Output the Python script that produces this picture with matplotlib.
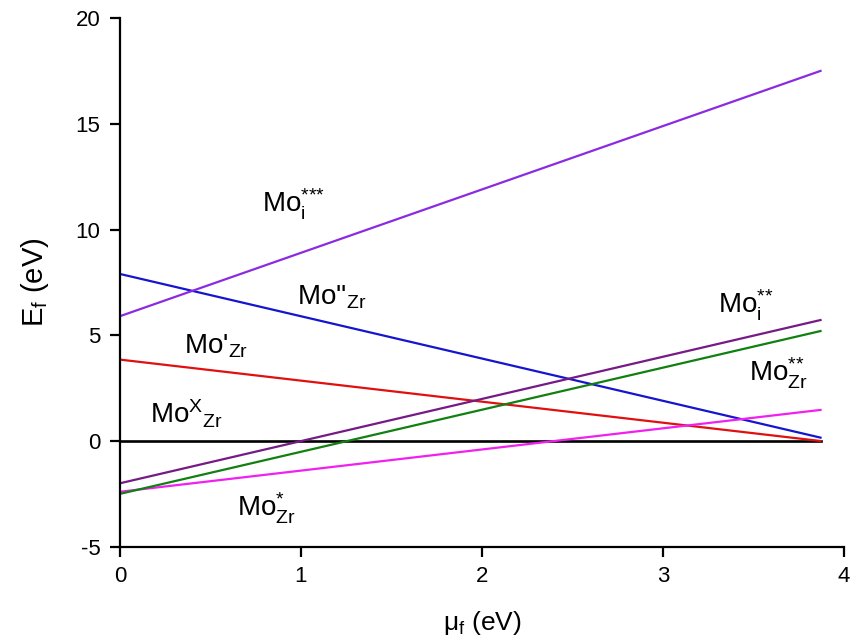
import matplotlib
matplotlib.use("Agg")
import matplotlib.pyplot as plt

# endpoints of each formation energy line (mu_f from 0 to ~3.87 eV)
mu = [0.0, 3.87]
E_Mo_i3 = [5.9, 17.5]      # Mo_i***
E_Mo_Zr2m = [7.9, 0.16]    # Mo''_Zr
E_Mo_Zr1m = [3.85, 0.0]    # Mo'_Zr
E_Mo_ZrX = [0.0, 0.0]      # Mo^X_Zr
E_Mo_i2 = [-2.0, 5.72]     # Mo_i**
E_Mo_Zr2 = [-2.5, 5.2]     # Mo_Zr**
E_Mo_Zr1 = [-2.4, 1.47]    # Mo_Zr*

plt.rcParams['font.family'] = ['Liberation Sans', 'DejaVu Sans']
plt.rcParams['mathtext.fontset'] = 'custom'
plt.rcParams['mathtext.rm'] = 'Liberation Sans'
plt.rcParams['mathtext.it'] = 'Liberation Sans'
plt.rcParams['axes.unicode_minus'] = False

fig = plt.figure(figsize=(8.5, 6.44), dpi=100)
ax = fig.add_axes([0.141, 0.151, 0.852, 0.821])

lw = 1.6
ax.plot(mu, E_Mo_ZrX, color='black', lw=lw + 0.3)
ax.plot(mu, E_Mo_Zr1m, color='#e01010', lw=lw)
ax.plot(mu, E_Mo_Zr2m, color='#1515d0', lw=lw)
ax.plot(mu, E_Mo_i3, color='#8a2be2', lw=lw)
ax.plot(mu, E_Mo_Zr1, color='#f020f0', lw=lw)
ax.plot(mu, E_Mo_Zr2, color='#108010', lw=lw)
ax.plot(mu, E_Mo_i2, color='#761a86', lw=lw)

fs = 20
ax.text(0.96, 11.2, r'Mo$_{\mathrm{i}}^{{*}{*}{*}}$', fontsize=fs, ha='center', va='center')
ax.text(1.17, 6.8, r"Mo''$_{\mathrm{Zr}}$", fontsize=fs, ha='center', va='center')
ax.text(0.53, 4.5, r"Mo'$_{\mathrm{Zr}}$", fontsize=fs, ha='center', va='center')
ax.text(0.37, 1.3, r"Mo$^{\mathrm{X}}{}_{\mathrm{Zr}}$", fontsize=fs, ha='center', va='center')
ax.text(0.81, -3.2, r'Mo$_{\mathrm{Zr}}^{*}$', fontsize=fs, ha='center', va='center')
ax.text(3.46, 6.4, r'Mo$_{\mathrm{i}}^{{*}{*}}$', fontsize=fs, ha='center', va='center')
ax.text(3.64, 3.2, r'Mo$_{\mathrm{Zr}}^{{*}{*}}$', fontsize=fs, ha='center', va='center')

ax.set_xlim(0, 4)
ax.set_ylim(-5, 20)
ax.set_xticks([0, 1, 2, 3, 4])
ax.set_yticks([-5, 0, 5, 10, 15, 20])
ax.spines['top'].set_visible(False)
ax.spines['right'].set_visible(False)
ax.spines['left'].set_linewidth(1.6)
ax.spines['bottom'].set_linewidth(1.6)
ax.tick_params(direction='out', length=7, width=1.6, labelsize=16, pad=7)

ax.set_xlabel(r'$\mu_{\mathrm{f}}$ (eV)', fontsize=19, labelpad=16)
ax.set_ylabel(r'E$_{\mathrm{f}}$ (eV)', fontsize=21, labelpad=18)

fig.savefig('out.png', dpi=100)
